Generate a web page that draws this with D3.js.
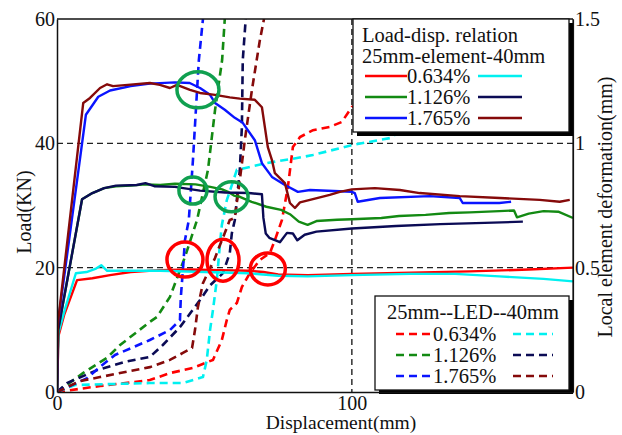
<!DOCTYPE html>
<html><head><meta charset="utf-8">
<script src="https://cdn.jsdelivr.net/npm/d3@7"></script>
<style>
html,body{margin:0;padding:0;background:#fff;}
text{font-family:"Liberation Serif","Times New Roman",serif;fill:#111;}
</style></head>
<body><svg id="c" width="622" height="435"></svg>
<script>
// ---------- data (displacement mm, load kN / local deformation mm) ----------
const xTicks = [0, 100];
const yLeftTicks = [0, 20, 40, 60];
const yRightTicks = [0, 0.5, 1, 1.5];
const gridLoad = [20, 40];
const gridDisp = [100];
const ratioLabels = ["0.634%", "1.126%", "1.765%"];

// solid: load-displacement (left axis)
const load_0634_25 = [[0,0],[0.5,9],[2.5,12.5],[6.8,18],[12,18.3],[18,18.8],[25,19.3],[35,19.6],[45,19.7],[55,19.6],[65,19.5],[70,19.3],[75,18.9],[85,18.8],[100,19.0],[120,19.2],[140,19.4],[160,19.7],[175,20.0]];
const load_0634_40 = [[0,0],[0.5,9.5],[2.5,13],[6.4,19.1],[10,19.3],[13,19.8],[15,20.4],[17,19.5],[22,19.5],[35,19.5],[50,19.3],[65,19.1],[75,18.7],[85,18.6],[100,18.8],[120,19.0],[135,19.0],[150,18.6],[165,18.2],[175,17.8]];
const load_1126_25 = [[0,0],[0.4,10],[8.5,31],[12,32],[16,32.8],[20,33.1],[25,33.2],[30,33.4],[35,33.3],[40,33.5],[47,33.4],[52,33.0],[56,32.6],[58,32.2],[60,31.6],[62,31.4],[66,30.6],[71,29.8],[76,29.3],[79,28.6],[82,27.4],[85,26.9],[88,27.5],[95,27.7],[100,27.8],[110,28.0],[116,28.3],[125,28.5],[133,28.8],[140,28.9],[150,29.1],[155,29.2],[156,28.1],[160,28.7],[165,29.1],[170,29.0],[175,28.0]];
const load_1126_40 = [[0,0],[0.4,10],[8.5,31],[12,32],[16,32.8],[20,33.2],[27,33.3],[30,33.6],[33,33.1],[40,33.0],[48.5,32.4],[57,32.1],[65,32.0],[69.5,31.8],[70,28],[70.8,25.5],[72,24.8],[75.6,24.1],[78,25.6],[80,25.5],[81.5,24.4],[84,25.3],[88,25.8],[100,26.3],[115,26.7],[130,27.0],[145,27.2],[158,27.4]];
const load_1765_25 = [[0,0],[0.3,11],[9.8,44.6],[14,47.5],[18,48.5],[25,49.2],[31.5,49.6],[40,49.8],[45,49.7],[48.5,48.9],[51.9,47.8],[53.6,46.5],[56.9,45.4],[60.3,44.1],[63,43.3],[67.1,40.5],[69.5,36.8],[72.9,34.6],[77.3,33.3],[81.7,32.2],[85.8,32.5],[100,32.2],[101,32.0],[102,30.6],[109.5,31.2],[126.4,31.5],[136.6,31.2],[137.6,30.4],[150,30.4],[154,30.6]];
const load_1765_40 = [[0,0],[0.3,11],[8.9,46.5],[11.2,47.3],[14.6,48.9],[17,49.5],[19,49.2],[24,49.4],[31.5,49.7],[34.9,49.4],[38.3,48.9],[40.7,49.4],[45.1,48.6],[48.5,48.1],[53.6,47.8],[58.6,47.4],[62,47.2],[67.1,47.0],[69.5,45.8],[70.5,42.6],[71.5,39.4],[72.9,37.3],[73.9,35.2],[77.3,33.6],[79,30.4],[80.7,29.6],[82.4,30.5],[85.8,30.9],[92.5,31.7],[95.9,32.2],[100,32.6],[107.8,32.8],[116.3,32.5],[123,32.0],[136.6,31.5],[150.2,31.2],[163.7,30.9],[170.5,30.6],[173.9,30.9]];

// dashed: local element deformation (right axis)
const led_0634_25 = [[0,0],[14.6,0.024],[31.5,0.048],[38.3,0.076],[46.1,0.097],[52.9,0.129],[55.9,0.209],[57.6,0.29],[58.6,0.33],[61,0.358],[62.7,0.422],[65.4,0.478],[68.8,0.531],[72.2,0.559],[73.9,0.611],[76.3,0.692],[78.3,0.824],[80,0.985],[82.4,1.025],[86.8,1.053],[92.5,1.066],[96.6,1.086],[100,1.146],[116.3,1.234],[140,1.355],[160.3,1.448],[169.5,1.5]];
const led_0634_40 = [[0,0],[6.1,0.028],[31.5,0.036],[42.7,0.036],[49.5,0.06],[50.8,0.129],[51.9,0.249],[52.9,0.33],[54.2,0.45],[55.3,0.599],[55.9,0.671],[57.6,0.772],[61,0.893],[65.4,0.905],[71.2,0.921],[81.4,0.941],[86.8,0.953],[100,0.993],[112.9,1.021],[133.2,1.174],[150.2,1.355],[158.3,1.5]];
const led_1126_25 = [[0,0],[8.8,0.076],[16.9,0.137],[21.4,0.189],[31.5,0.282],[33.9,0.302],[38.3,0.382],[43.4,0.543],[47.5,0.692],[51.2,0.893],[53.6,1.134],[56,1.335],[56.9,1.5]];
const led_1126_40 = [[0,0],[3.4,0.036],[13.6,0.088],[23,0.121],[31.5,0.141],[35.9,0.189],[41.7,0.261],[48.5,0.37],[52,0.43],[56.3,0.478],[58.6,0.559],[59.3,0.639],[60.3,0.691],[62,0.892],[62.7,1.065],[63,1.334],[64,1.5]];
const led_1765_25 = [[0,0],[10.2,0.056],[14.6,0.101],[19.7,0.149],[31.5,0.209],[38.3,0.249],[41.7,0.289],[42,0.382],[42.7,0.491],[43.4,0.611],[44.7,0.691],[46.1,0.932],[48.1,1.334],[49.5,1.5]];
const led_1765_40 = [[0,0],[7.8,0.044],[14.6,0.06],[31.5,0.1],[38.3,0.129],[42.7,0.157],[45.8,0.177],[46.8,0.249],[47.8,0.342],[49.5,0.438],[53.6,0.539],[54.6,0.571],[56.9,0.639],[58.6,0.692],[60.3,0.7],[62,0.852],[63.7,1.013],[66.1,1.214],[68.8,1.415],[70.2,1.5]];

// annotation ellipses (centres in data units: displacement, load)
const greenMarks = [[47.8,48.6],[46.1,32.4],[59.2,31.4]];
const redMarks = [[43.4,21.3],[56.3,21.2],[71.5,19.8]];

// ---------- drawing ----------
const svg = d3.select("#c");
const L = 57, R = 573, T = 19, B = 392;
const x = d3.scaleLinear().domain([0,175]).range([L,R]);
const yL = d3.scaleLinear().domain([0,60]).range([B,T]);
const yR = d3.scaleLinear().domain([0,1.5]).range([B,T]);

const C = {red:"#ff0000", cyan:"#00f0f0", green:"#138a13", navy:"#0b0b55", blue:"#0a14ff", brown:"#850a0a"};

svg.append("defs").append("clipPath").attr("id","clip")
  .append("rect").attr("x",L).attr("y",T).attr("width",R-L).attr("height",B-T);

// grid
const grid = svg.append("g").attr("stroke","#222").attr("stroke-width",1.4).attr("stroke-dasharray","6,4");
gridLoad.forEach(v=>grid.append("line").attr("x1",L).attr("x2",R).attr("y1",yL(v)).attr("y2",yL(v)));
gridDisp.forEach(v=>grid.append("line").attr("x1",x(v)).attr("x2",x(v)).attr("y1",T).attr("y2",B));

const plot = svg.append("g").attr("clip-path","url(#clip)");
const lineL = d3.line().x(d=>x(d[0])).y(d=>yL(d[1]));
const lineR = d3.line().x(d=>x(d[0])).y(d=>yR(d[1]));

const dashed = [[led_0634_25,C.red],[led_0634_40,C.cyan],[led_1126_25,C.green],[led_1126_40,C.navy],[led_1765_25,C.blue],[led_1765_40,C.brown]];
dashed.forEach(([d,c])=>plot.append("path").datum(d).attr("d",lineR).attr("fill","none")
  .attr("stroke",c).attr("stroke-width",2.6).attr("stroke-dasharray","8,5"));
const solid = [[load_0634_25,C.red],[load_0634_40,C.cyan],[load_1126_25,C.green],[load_1126_40,C.navy],[load_1765_25,C.blue],[load_1765_40,C.brown]];
solid.forEach(([d,c])=>plot.append("path").datum(d).attr("d",lineL).attr("fill","none")
  .attr("stroke",c).attr("stroke-width",2.4).attr("stroke-linejoin","round"));

// annotation ellipses
const gR = [[21,18],[14,13.5],[16.5,15]];
const rR = [[18,17.5],[16,21],[17.5,16]];
greenMarks.forEach((m,i)=>svg.append("ellipse").attr("cx",x(m[0])).attr("cy",yL(m[1]))
  .attr("rx",gR[i][0]).attr("ry",gR[i][1]).attr("fill","none").attr("stroke","#10a050").attr("stroke-width",3.5));
redMarks.forEach((m,i)=>svg.append("ellipse").attr("cx",x(m[0])).attr("cy",yL(m[1]))
  .attr("rx",rR[i][0]).attr("ry",rR[i][1]).attr("fill","none").attr("stroke","#ff0000").attr("stroke-width",3.5));

// frame
svg.append("line").attr("x1",L).attr("x2",R).attr("y1",T).attr("y2",T).attr("stroke","#111").attr("stroke-width",1.5);
svg.append("line").attr("x1",R).attr("x2",R).attr("y1",T).attr("y2",B).attr("stroke","#111").attr("stroke-width",1.2);

// legends
function legendBox(x0,y0,x1,y1){
  svg.append("rect").attr("x",x0+4).attr("y",y0+4).attr("width",x1-x0).attr("height",y1-y0).attr("fill","#000");
  svg.append("rect").attr("x",x0).attr("y",y0).attr("width",x1-x0).attr("height",y1-y0)
    .attr("fill","#fff").attr("stroke","#111").attr("stroke-width",1.3);
}
const fs = "20.5px";
legendBox(353,19,569,132);
svg.append("text").attr("x",362).attr("y",42).attr("font-size",fs).text("Load-disp. relation");
svg.append("text").attr("x",362).attr("y",63).attr("font-size",fs).text("25mm-element-40mm");
const leftCols = [C.red,C.green,C.blue], rightCols = [C.cyan,C.navy,C.brown];
[76,97,118].forEach((cy,i)=>{
  svg.append("line").attr("x1",365).attr("x2",407).attr("y1",cy).attr("y2",cy).attr("stroke",leftCols[i]).attr("stroke-width",2.4);
  svg.append("line").attr("x1",478).attr("x2",522).attr("y1",cy).attr("y2",cy).attr("stroke",rightCols[i]).attr("stroke-width",2.4);
  svg.append("text").attr("x",407).attr("y",cy+7).attr("font-size",fs).text(ratioLabels[i]);
});
legendBox(375,296,569,390);
svg.append("text").attr("x",387).attr("y",319).attr("font-size",fs).text("25mm--LED--40mm");
[334,355,376].forEach((cy,i)=>{
  svg.append("line").attr("x1",396).attr("x2",433).attr("y1",cy).attr("y2",cy).attr("stroke",leftCols[i]).attr("stroke-width",2.6).attr("stroke-dasharray","8,5");
  svg.append("line").attr("x1",513).attr("x2",553).attr("y1",cy).attr("y2",cy).attr("stroke",rightCols[i]).attr("stroke-width",2.6).attr("stroke-dasharray","8,5");
  svg.append("text").attr("x",433).attr("y",cy+7).attr("font-size",fs).text(ratioLabels[i]);
});

// axes
const fsA = "20px";
const ax = svg.append("g").attr("transform",`translate(0,${B})`)
  .call(d3.axisBottom(x).tickValues(xTicks).tickFormat(d3.format("d")).tickSize(0).tickPadding(4));
const ayl = svg.append("g").attr("transform",`translate(${L},0)`)
  .call(d3.axisLeft(yL).tickValues(yLeftTicks).tickFormat(d3.format("d")).tickSize(0).tickPadding(2));
const ayr = svg.append("g").attr("transform",`translate(${R},0)`)
  .call(d3.axisRight(yR).tickValues(yRightTicks).tickFormat(d=>String(d)).tickSize(0).tickPadding(2));
[ax,ayl,ayr].forEach(g=>{
  g.selectAll("text").attr("font-size",fsA).attr("font-family","Liberation Serif").attr("fill","#111");
});
ax.select(".domain").attr("stroke","#111").attr("stroke-width",1.5);
ayl.select(".domain").attr("stroke","#111").attr("stroke-width",1.5);
ayr.select(".domain").attr("stroke","#111").attr("stroke-width",1.2);

// axis titles
svg.append("text").attr("x",341).attr("y",429).attr("text-anchor","middle").attr("font-size","19.5px").text("Displacement(mm)");
svg.append("text").attr("transform","translate(31,212) rotate(-90)").attr("text-anchor","middle").attr("font-size",fsA).text("Load(KN)");
svg.append("text").attr("transform","translate(612,207) rotate(-90)").attr("text-anchor","middle").attr("font-size",fsA).text("Local element deformation(mm)");
</script></body></html>
